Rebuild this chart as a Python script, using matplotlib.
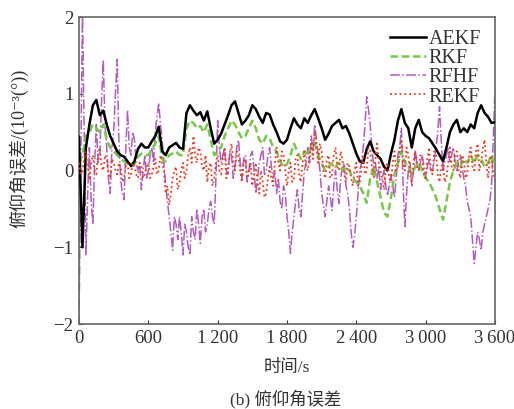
import numpy as np
import matplotlib.pyplot as plt

plt.rcParams['font.family'] = ['Liberation Serif', 'Noto Sans CJK SC', 'DejaVu Sans']

# values; AEKF / RKF every 30 s, RFHF / REKF every 15 s (0..3600 s)
aekf = [0.44, -1.0, 0.3, 0.6, 0.85, 0.92, 0.72, 0.78, 0.6, 0.45,
        0.35, 0.25, 0.2, 0.18, 0.12, 0.06, 0.12, 0.28, 0.35, 0.3,
        0.3, 0.38, 0.45, 0.57, 0.25, 0.2, 0.3, 0.33, 0.36, 0.3,
        0.28, 0.75, 0.85, 0.78, 0.72, 0.76, 0.65, 0.77, 0.55, 0.35,
        0.4, 0.48, 0.6, 0.72, 0.85, 0.9, 0.75, 0.6, 0.65, 0.72,
        0.85, 0.8, 0.7, 0.62, 0.75, 0.73, 0.6, 0.5, 0.38, 0.35,
        0.4, 0.55, 0.68, 0.6, 0.55, 0.68, 0.62, 0.72, 0.8, 0.68,
        0.55, 0.4, 0.48, 0.58, 0.62, 0.66, 0.55, 0.58, 0.48, 0.35,
        0.22, 0.12, 0.1, 0.28, 0.38, 0.25, 0.2, 0.15, 0.05, 0.0,
        0.22, 0.4, 0.65, 0.8, 0.62, 0.55, 0.3, 0.55, 0.66, 0.5,
        0.45, 0.42, 0.35, 0.28, 0.2, 0.12, 0.3, 0.5, 0.6, 0.66,
        0.5, 0.55, 0.5, 0.6, 0.55, 0.75, 0.85, 0.75, 0.7, 0.62,
        0.63]

rkf = [0.1, 0.2, 0.45, 0.5, 0.6, 0.55, 0.5, 0.6, 0.4, 0.3,
       0.25, 0.2, 0.15, 0.12, 0.1, 0.05, 0.08, 0.18, 0.22, 0.2,
       0.2, 0.28, 0.35, 0.45, 0.15, 0.12, 0.2, 0.22, 0.25, 0.2,
       0.2, 0.55, 0.65, 0.62, 0.55, 0.58, 0.5, 0.6, 0.4, 0.2,
       0.25, 0.3, 0.45, 0.55, 0.65, 0.6, 0.5, 0.42, 0.45, 0.55,
       0.65, 0.55, 0.4, 0.35, 0.45, 0.42, 0.3, 0.25, 0.12, 0.05,
       0.08, 0.2, 0.35, 0.25, 0.15, 0.25, 0.2, 0.3, 0.36, 0.2,
       0.1, 0.0, 0.05, 0.1, 0.05, 0.1, 0.0, 0.05, 0.0, -0.1,
       -0.15, -0.2, -0.3, -0.42, -0.1, 0.05, -0.15, -0.35, -0.55, -0.6,
       -0.35, -0.05, 0.1, 0.25, 0.1, 0.05, -0.05, 0.05, 0.1, 0.0,
       -0.1, -0.15, -0.25, -0.35, -0.5, -0.64, -0.4, -0.15, 0.0, 0.1,
       0.05, 0.15, 0.1, 0.2, 0.1, 0.2, 0.15, 0.05, 0.1, 0.2,
       0.05]

rfhf = [-2.0, 0.0, 2.1, 0.5, -1.1, -0.3, 0.3, -0.4, -0.7, 0.1, 0.6, 0.1, 0.2, 0.9, 1.44, 0.6, 0.3, -0.1, -0.3, 0.3,
        0.5, 1.0, 1.45, 0.4, -0.1, -0.3, -0.38, 0.3, 0.79, 0.3, 0.2, 0.5, 0.4, 0.1, 0.0, 0.1, -0.25, 0.0, 0.2, -0.1,
        0.0, 0.2, 0.3, 0.1, 0.5, 0.7, 0.88, 0.6, 0.4, 0.1, -0.2, -0.4, -0.6, -0.8, -1.04, -0.6, -0.7, -0.9, -0.6, -0.8,
        -1.1, -0.7, -0.8, -1.0, -1.1, -0.6, -0.8, -0.9, -0.5, -0.7, -0.95, -0.6, -0.5, -0.8, -0.7, -0.5, -0.4, -0.6, -0.7, -0.1,
        0.65, 0.3, 0.1, 0.2, 0.3, 0.0, -0.05, 0.25, 0.2, -0.1, 0.05, 0.3, 0.4, 0.1, -0.1, 0.15, 0.2, -0.15, 0.0, 0.2,
        0.25, 0.0, -0.3, -0.1, 0.1, 0.2, 0.3, -0.05, 0.0, 0.2, 0.3, 0.05, -0.1, 0.0, -0.3, -0.1, -0.4, -0.5, -0.2, -0.3,
        -0.6, -0.8, -1.08, -0.8, -0.6, -0.4, -0.25, -0.5, -0.6, -0.3, 0.0, 0.1, 0.3, 0.1, 0.45, 0.25, 0.6, 0.4, 0.2, 0.0,
        -0.3, -0.45, -0.6, -0.4, -0.2, -0.35, -0.52, -0.2, 0.0, -0.25, -0.43, -0.1, 0.05, 0.1, -0.2, -0.3, -0.5, -0.8, -1.0, -0.85,
        -0.6, -0.3, 0.0, 0.1, 0.3, 0.6, 0.96, 0.8, 0.6, 0.3, 0.05, 0.1, -0.1, 0.05, -0.25, -0.1, 0.0, -0.2, -0.33, -0.2,
        -0.05, -0.2, -0.35, -0.1, 0.2, 0.3, 0.55, -0.2, -0.73, -0.3, 0.0, 0.1, -0.2, 0.0, 0.27, 0.1, 0.0, 0.1, 0.2, 0.05,
        -0.1, 0.05, 0.14, 0.0, 0.0, 0.15, 0.3, 0.5, 0.83, 0.4, 0.0, 0.1, 0.2, 0.3, 0.1, 0.2, 0.3, 0.1, 0.0, 0.1,
        0.2, 0.05, -0.1, -0.2, -0.4, -0.5, -0.6, -0.9, -1.21, -1.0, -0.8, -0.9, -1.04, -0.8, -0.7, -0.6, -0.5, -0.4, -0.2, 0.4,
        1.05]

rekf = [0.1, -0.05, 0.0, 0.15, 0.25, 0.05, -0.1, 0.1, 0.2, 0.0, -0.05, 0.2, 0.3, 0.05, 0.0, 0.2, 0.15, -0.05, -0.1, 0.15,
        0.1, 0.0, -0.05, 0.1, 0.05, -0.15, -0.1, 0.05, 0.1, -0.1, -0.05, 0.1, 0.05, -0.05, -0.1, 0.1, 0.05, -0.1, -0.05, 0.05,
        0.1, -0.1, -0.05, 0.05, 0.15, -0.05, 0.0, 0.2, 0.1, 0.0, -0.3, -0.2, -0.45, -0.3, -0.1, 0.0, 0.05, -0.25, -0.15, 0.0,
        0.1, -0.1, 0.0, 0.2, 0.3, 0.1, 0.45, 0.2, 0.1, 0.3, 0.25, 0.05, 0.0, 0.2, -0.15, 0.05, 0.1, -0.2, -0.1, 0.1,
        0.2, 0.0, -0.05, 0.15, 0.3, -0.1, 0.05, 0.2, 0.35, 0.1, 0.0, 0.25, 0.2, 0.0, -0.15, 0.1, 0.15, -0.1, -0.05, 0.1,
        -0.2, -0.05, 0.1, -0.15, -0.3, 0.0, -0.15, -0.35, -0.3, -0.1, 0.05, -0.1, -0.2, 0.1, 0.3, 0.1, 0.0, 0.25, 0.2, 0.0,
        -0.2, 0.0, 0.1, -0.15, -0.1, 0.15, 0.2, -0.05, -0.15, 0.1, 0.25, 0.05, 0.0, 0.2, 0.35, 0.15, 0.5, 0.3, 0.1, 0.35,
        0.25, 0.0, -0.1, 0.15, 0.2, -0.1, -0.05, 0.2, 0.3, 0.05, 0.0, 0.25, 0.15, -0.05, -0.15, 0.1, 0.05, -0.1, -0.2, 0.0,
        0.1, -0.2, -0.15, 0.05, 0.2, -0.05, 0.0, 0.3, 0.25, 0.05, -0.1, 0.15, 0.35, 0.1, 0.0, -0.1, -0.25, 0.05, 0.1, -0.1,
        -0.15, 0.1, 0.25, 0.0, 0.05, 0.25, 0.4, 0.1, 0.0, 0.3, 0.2, -0.05, -0.15, 0.1, 0.25, 0.05, 0.0, 0.2, 0.15, -0.05,
        -0.1, 0.15, 0.3, 0.0, -0.05, 0.25, 0.2, -0.05, -0.15, 0.05, 0.1, -0.15, -0.1, 0.1, 0.3, 0.05, 0.0, 0.2, 0.25, 0.0,
        -0.1, 0.2, 0.15, -0.1, -0.05, 0.2, 0.3, 0.05, 0.0, 0.25, 0.35, 0.0, 0.1, 0.3, 0.4, 0.1, -0.1, 0.15, 0.2, -0.05,
        -0.1]

xticks = [0, 600, 1200, 1800, 2400, 3000, 3600]
xticklabels = ['0', '600', '1\u2009200', '1\u2009800', '2\u2009400', '3\u2009000', '3\u2009600']
yticks = [-2, -1, 0, 1, 2]
yticklabels = ['\u22122', '\u22121', '0', '1', '2']


def tgrid(v):
    return np.linspace(0, 3600, len(v))


fig = plt.figure(figsize=(5.14, 4.09), dpi=100)
ax = fig.add_axes([0.1537, 0.2078, 0.8093, 0.7506])

ax.plot(tgrid(aekf), aekf, color='black', lw=1.8, label='AEKF', zorder=4)
ax.plot(tgrid(rkf), rkf, color='#78c848', lw=1.8, ls=(0, (3, 1.5)), label='RKF', zorder=3)
ax.plot(tgrid(rfhf), rfhf, color='#b05cc0', lw=1.1, ls='-.', label='RFHF', zorder=2)
ax.plot(tgrid(rekf), rekf, color='#ee3a1a', lw=1.3, ls=':', label='REKF', zorder=5)

ax.set_xlim(0, 3600)
ax.set_ylim(-2, 2)
ax.set_xticks(xticks)
ax.set_xticklabels(xticklabels)
ax.set_yticks(yticks)
ax.set_yticklabels(yticklabels)
ax.tick_params(direction='in', length=3, labelsize=13.5, colors='#333333', pad=4)
for s in ax.spines.values():
    s.set_color('#666666')
    s.set_linewidth(1.2)

ax.set_xlabel('时间/s', fontsize=12.5, color='#333333', labelpad=10)
ax.set_ylabel('俯仰角误差/(10⁻³(°))', fontsize=13, color='#333333', va='center')
ax.yaxis.set_label_coords(-0.145, 0.573)
fig.text(0.555, 0.012, '(b) 俯仰角误差', ha='center', fontsize=12.5, color='#333333')

leg = ax.legend(loc='upper right', frameon=False, fontsize=14.5, handlelength=1.8,
                handletextpad=0.1, labelspacing=0.0, borderaxespad=0.1,
                bbox_to_anchor=(0.99, 0.99))
for t in leg.get_texts():
    t.set_color('#333333')

plt.savefig('out.png', dpi=100)
